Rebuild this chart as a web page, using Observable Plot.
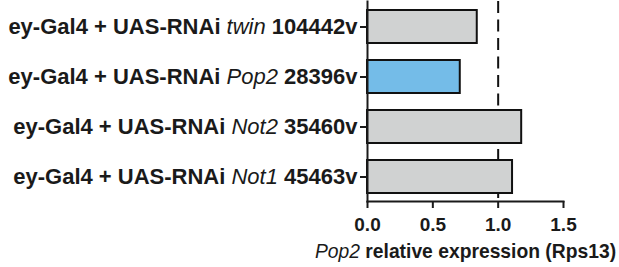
<!DOCTYPE html>
<html><head><meta charset="utf-8">
<script src="https://cdn.jsdelivr.net/npm/d3@7"></script>
<script src="https://cdn.jsdelivr.net/npm/@observablehq/plot@0.6"></script>
<style>
body{margin:0;background:#fff}
#chart svg{font-family:"Liberation Sans",Arial,Helvetica,sans-serif}
</style>
</head><body><div id="chart"></div>
<script>
const prefixes = ["ey-Gal4 + UAS-RNAi", "ey-Gal4 + UAS-RNAi", "ey-Gal4 + UAS-RNAi", "ey-Gal4 + UAS-RNAi"];
const genes = ["twin", "Pop2", "Not2", "Not1"];
const stocks = ["104442v", "28396v", "35460v", "45463v"];
const values = [0.84, 0.71, 1.18, 1.11];
const fills = ["#d0d2d2", "#74bce8", "#d0d2d2", "#d0d2d2"];
const xTicks = [0, 0.5, 1, 1.5];
const referenceLine = [1];
const xLabelItalic = "Pop2";
const xLabelRest = " relative expression (Rps13)";

const data = genes.map((g, i) => ({label: `${prefixes[i]} ${g} ${stocks[i]}`, value: values[i], fill: fills[i]}));
const labelParts = new Map(genes.map((g, i) => [`${prefixes[i]} ${g} ${stocks[i]}`, [prefixes[i] + " ", g, " " + stocks[i]]]));

const plot = Plot.plot({
  width: 619, height: 267,
  marginLeft: 367, marginRight: 56, marginTop: 1, marginBottom: 66,
  style: {fontFamily: "'Liberation Sans', Arial, sans-serif", fontSize: "19px", fontWeight: "bold", color: "#1a1a1a", background: "transparent"},
  x: {domain: [0, 1.5]},
  y: {domain: data.map(d => d.label), paddingInner: 0.34, paddingOuter: 0.17},
  marks: [
    Plot.ruleX(referenceLine, {stroke: "#111", strokeWidth: 2, strokeDasharray: "12,6.5"}),
    Plot.barX(data, {x: "value", y: "label", fill: "fill", stroke: "#111", strokeWidth: 2}),
    Plot.axisY({tickSize: 7, tickPadding: 3, strokeWidth: 2, fontSize: 22, label: null}),
    Plot.axisX({ticks: xTicks, tickFormat: d3.format(".1f"), tickSize: 7, tickPadding: 9, strokeWidth: 2, fontSize: 19,
      label: xLabelItalic + xLabelRest, labelAnchor: "center", labelOffset: 56}),
    Plot.frame({anchor: "left", strokeWidth: 2}),
    Plot.frame({anchor: "bottom", strokeWidth: 2})
  ]
});
document.getElementById("chart").append(plot);

// mixed italic / bold styling of the axis texts
const svg = d3.select(plot);
svg.selectAll('g[aria-label="y-axis tick label"] text').each(function() {
  const t = d3.select(this);
  const parts = labelParts.get(this.textContent);
  if (!parts) return;
  t.text(null);
  t.append("tspan").text(parts[0]);
  t.append("tspan").attr("font-style", "italic").attr("font-weight", "normal").text(parts[1]);
  t.append("tspan").text(parts[2]);
});
svg.selectAll('g[aria-label="x-axis label"] text').each(function() {
  const t = d3.select(this);
  t.attr("font-size", 19.3);
  t.text(null);
  t.append("tspan").attr("font-style", "italic").attr("font-weight", "normal").text(xLabelItalic);
  t.append("tspan").text(xLabelRest);
});
</script>
</body></html>
